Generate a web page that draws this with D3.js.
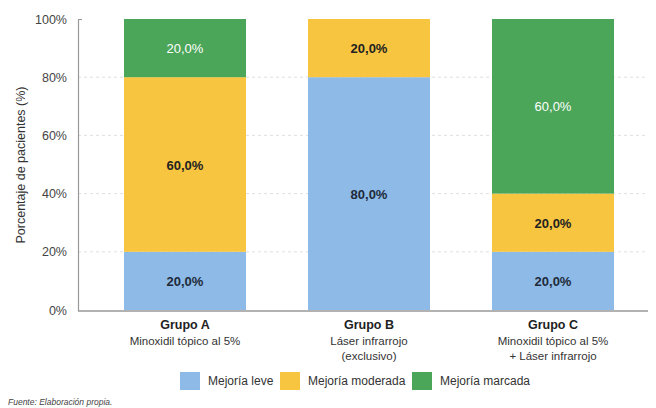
<!DOCTYPE html>
<html>
<head>
<meta charset="utf-8">
<script src="https://cdn.jsdelivr.net/npm/d3@7"></script>
<style>
  body { margin: 0; background: #fff; }
  text { font-family: "Liberation Sans", Arial, sans-serif; }
</style>
</head>
<body>
<script>
const width = 656;
const height = 408;

const groups = ['Grupo A', 'Grupo B', 'Grupo C'];
const subtitles = [
	['Minoxidil tópico al 5%'],
	['Láser infrarrojo', '(exclusivo)'],
	['Minoxidil tópico al 5%', '+ Láser infrarrojo']
];
const seriesNames = ['Mejoría leve', 'Mejoría moderada', 'Mejoría marcada'];
const leve = [20, 80, 20];
const moderada = [60, 20, 20];
const marcada = [20, 0, 60];
const colors = ['#8dbae6', '#f8c540', '#4ca65a'];
const labelColors = ['#1f2a3a', '#222', '#fff'];
const yTicks = [0, 20, 40, 60, 80, 100];

let rows = groups.map((g, i) => ({ group: g, 0: leve[i], 1: moderada[i], 2: marcada[i] }));
let stacked = d3.stack().keys([0, 1, 2])(rows);

let svg = d3.select('body').append('svg')
	.attr('width', width)
	.attr('height', height);

let x = d3.scaleBand().domain(groups).range([78, 660]).paddingInner(0.337).paddingOuter(0.25);
let y = d3.scaleLinear().domain([0, 100]).range([310, 19]);

// grid
svg.append('g').selectAll('line')
	.data(yTicks.filter(t => t > 0 && t < 100))
	.join('line')
	.attr('x1', 78).attr('x2', 645)
	.attr('y1', d => y(d)).attr('y2', d => y(d))
	.style('stroke', '#d8d8d8')
	.style('stroke-dasharray', '3,3')
	.style('stroke-width', 0.8);

// bars
stacked.forEach((s, k) => {
	svg.append('g').selectAll('rect')
		.data(s.filter(d => d[1] > d[0]))
		.join('rect')
		.attr('x', d => x(d.data.group))
		.attr('width', x.bandwidth())
		.attr('y', d => y(d[1]))
		.attr('height', d => y(d[0]) - y(d[1]))
		.style('fill', colors[k]);

	svg.append('g').selectAll('text')
		.data(s.filter(d => d[1] > d[0]))
		.join('text')
		.attr('x', d => x(d.data.group) + x.bandwidth() / 2)
		.attr('y', d => y((d[0] + d[1]) / 2) + 5)
		.attr('text-anchor', 'middle')
		.style('font-size', '13px')
		.style('font-weight', k === 2 ? 'normal' : 'bold')
		.style('fill', labelColors[k])
		.text(d => (d[1] - d[0]).toFixed(1).replace('.', ',') + '%');
});

// y axis
let yAxis = svg.append('g')
	.attr('transform', 'translate(78,0)')
	.call(d3.axisLeft(y).tickValues(yTicks).tickFormat(d => d + '%').tickSize(0).tickPadding(11));
yAxis.select('.domain').remove();
yAxis.selectAll('text').style('font-size', '12.5px').style('fill', '#444').style('font-family', '"Liberation Sans", Arial, sans-serif');

svg.append('path')
	.attr('d', 'M82,19.5H78.5V311')
	.style('fill', 'none')
	.style('stroke', '#999')
	.style('stroke-width', 1.2);
svg.append('line')
	.attr('x1', 78).attr('x2', 648)
	.attr('y1', 311).attr('y2', 311)
	.style('stroke', '#999')
	.style('stroke-width', 1.4);

svg.append('text')
	.attr('transform', 'translate(25,165) rotate(-90)')
	.attr('text-anchor', 'middle')
	.style('font-size', '12.5px')
	.style('fill', '#333')
	.text('Porcentaje de pacientes (%)');

// category labels
groups.forEach((g, i) => {
	let cx = x(g) + x.bandwidth() / 2;
	svg.append('text')
		.attr('x', cx).attr('y', 329)
		.attr('text-anchor', 'middle')
		.style('font-size', '12.5px')
		.style('font-weight', 'bold')
		.style('fill', '#222')
		.text(g);
	subtitles[i].forEach((line, j) => {
		svg.append('text')
			.attr('x', cx).attr('y', 345 + j * 15)
			.attr('text-anchor', 'middle')
			.style('font-size', '11.5px')
			.style('fill', '#333')
			.text(line);
	});
});

// legend
let legendX = [180, 280, 412];
seriesNames.forEach((name, k) => {
	svg.append('rect')
		.attr('x', legendX[k]).attr('y', 372)
		.attr('width', 20).attr('height', 18)
		.style('fill', colors[k]);
	svg.append('text')
		.attr('x', legendX[k] + 28).attr('y', 385)
		.style('font-size', '12px')
		.style('fill', '#333')
		.text(name);
});

svg.append('text')
	.attr('x', 8).attr('y', 405)
	.style('font-size', '8.5px')
	.style('font-style', 'italic')
	.style('fill', '#444')
	.text('Fuente: Elaboración propia.');
</script>
</body>
</html>
